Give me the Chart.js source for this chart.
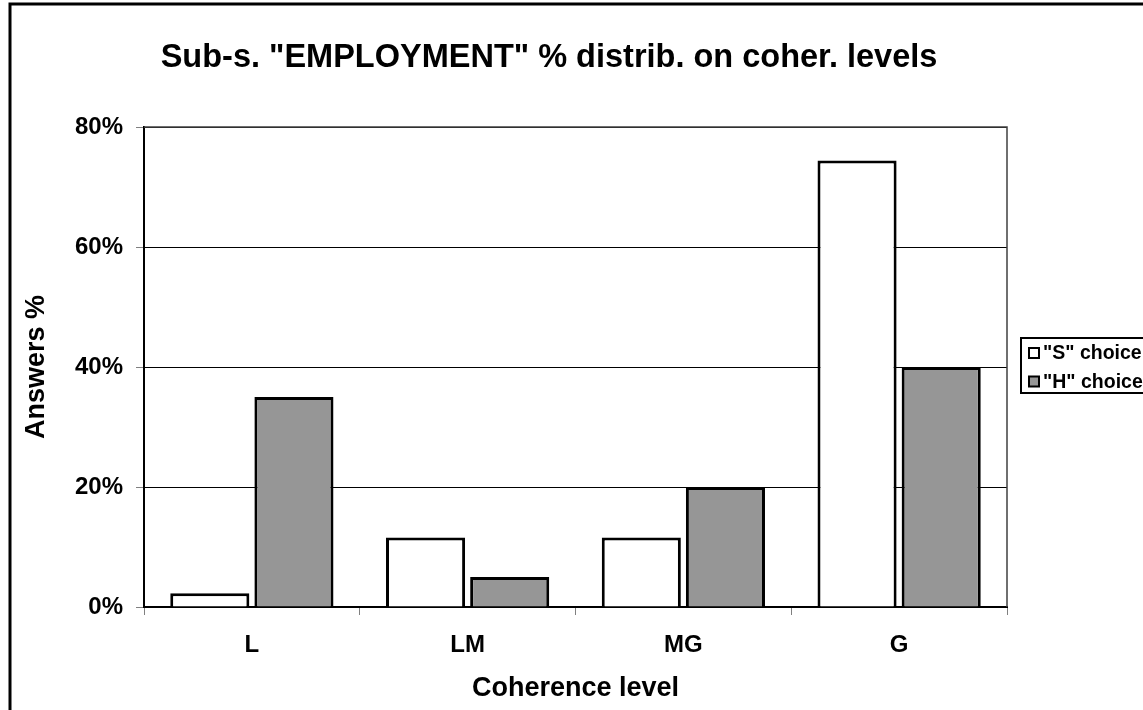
<!DOCTYPE html>
<html>
<head>
<meta charset="utf-8">
<title>Sub-s. EMPLOYMENT</title>
<script src="https://cdn.jsdelivr.net/npm/chart.js@4.4.1/dist/chart.umd.min.js"></script>
<style>
  html, body { margin: 0; padding: 0; background: #fff; }
  #wrap { width: 1143px; height: 710px; position: relative; }
</style>
</head>
<body>
<div id="wrap"><canvas id="employmentChart" width="1143" height="710"></canvas></div>
<script>
var levels = ['L', 'LM', 'MG', 'G'];
var sChoice = [2.3, 11.6, 11.6, 74.4];
var hChoice = [35, 5, 20, 40];
var seriesNames = ['"S" choice', '"H" choice'];
var chartTitle = 'Sub-s. "EMPLOYMENT" % distrib. on coher. levels';

var FONT = '"Liberation Sans", Arial, sans-serif';

// frame round the whole chart, title, plot border and the boxed legend
var chartDecor = {
    id: 'chartDecor',
    beforeDatasetsDraw: function (chart) {
        var a = chart.chartArea, c = chart.ctx;
        c.save();
        c.strokeStyle = '#404040';
        c.lineWidth = 1.5;
        c.beginPath();
        c.moveTo(a.left, a.top);
        c.lineTo(a.right, a.top);
        c.lineTo(a.right, a.bottom);
        c.stroke();
        c.restore();
    },
    afterDraw: function (chart) {
        var c = chart.ctx;
        c.save();
        c.strokeStyle = '#000';
        c.lineWidth = 3;
        c.strokeRect(10, 4, 1400, 1000);

        c.fillStyle = '#000';
        c.font = 'bold 32.5px ' + FONT;
        c.textAlign = 'center';
        c.textBaseline = 'middle';
        c.fillText(chartTitle, 549, 58);

        // legend
        c.lineWidth = 2;
        c.strokeRect(1021, 338, 200, 55);
        var rows = [353, 381.5];
        chart.data.datasets.forEach(function (ds, i) {
            c.fillStyle = ds.backgroundColor;
            c.fillRect(1029, rows[i] - 5, 10, 10);
            c.lineWidth = 2;
            c.strokeStyle = '#000';
            c.strokeRect(1029, rows[i] - 5, 10, 10);
            c.fillStyle = '#000';
            c.font = 'bold 19.5px ' + FONT;
            c.textBaseline = 'middle';
            c.textAlign = 'left';
            c.fillText(ds.label, 1043, rows[i] + 1);
        });
        c.restore();
    }
};

var ctx = document.getElementById('employmentChart').getContext('2d');
var employmentChart = new Chart(ctx, {
    type: 'bar',
    data: {
        labels: levels,
        datasets: [{
            label: seriesNames[0],
            data: sChoice,
            backgroundColor: '#ffffff',
            borderColor: '#000000',
            borderWidth: 3,
            barPercentage: 0.94,
            categoryPercentage: 0.78
        }, {
            label: seriesNames[1],
            data: hChoice,
            backgroundColor: '#969696',
            borderColor: '#000000',
            borderWidth: 3,
            barPercentage: 0.94,
            categoryPercentage: 0.78
        }]
    },
    options: {
        responsive: false,
        animation: false,
        layout: { padding: { top: 127, left: 0, right: 136, bottom: 0 } },
        plugins: {
            legend: { display: false },
            tooltip: { enabled: false },
            title: { display: false }
        },
        scales: {
            x: {
                afterFit: function (scale) { scale.height = 103; },
                grid: {
                    display: true,
                    offset: true,
                    drawOnChartArea: false,
                    tickLength: 8,
                    tickColor: '#808080'
                },
                border: { color: '#000', width: 2 },
                ticks: {
                    color: '#000',
                    padding: 16,
                    font: { family: FONT, size: 24, weight: 'bold' }
                },
                title: {
                    display: true,
                    text: 'Coherence level',
                    color: '#000',
                    font: { family: FONT, size: 27, weight: 'bold' },
                    padding: { top: 0, bottom: 5 }
                }
            },
            y: {
                min: 0,
                max: 80,
                afterFit: function (scale) { scale.width = 144; },
                grid: {
                    color: '#000',
                    lineWidth: 1,
                    tickLength: 8,
                    tickColor: '#808080'
                },
                border: { color: '#000', width: 2 },
                ticks: {
                    stepSize: 20,
                    color: '#000',
                    padding: 13,
                    font: { family: FONT, size: 24, weight: 'bold' },
                    callback: function (v) { return v + '%'; }
                },
                title: {
                    display: true,
                    text: 'Answers %',
                    color: '#000',
                    font: { family: FONT, size: 27, weight: 'bold' },
                    padding: { top: 20, bottom: 0 }
                }
            }
        }
    },
    plugins: [chartDecor]
});
</script>
</body>
</html>
